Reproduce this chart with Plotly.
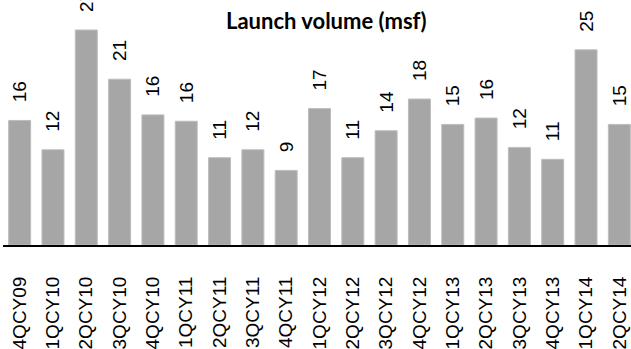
import plotly.graph_objects as go

categories = ["4QCY09", "1QCY10", "2QCY10", "3QCY10", "4QCY10", "1QCY11", "2QCY11",
              "3QCY11", "4QCY11", "1QCY12", "2QCY12", "3QCY12", "4QCY12", "1QCY13",
              "2QCY13", "3QCY13", "4QCY13", "1QCY14", "2QCY14"]
values = [15.7, 12.0, 27.1, 20.9, 16.4, 15.6, 11.0, 12.0, 9.4, 17.2, 11.0, 14.4,
          18.4, 15.2, 16.0, 12.3, 10.8, 24.6, 15.2]
labels = ["16", "12", "27", "21", "16", "16", "11", "12", "9", "17", "11", "14",
          "18", "15", "16", "12", "11", "25", "15"]
title = "Launch volume (msf)"

LABEL_GAP = 1.9  # data units of empty space between bar top and its value label

fig = go.Figure()
fig.add_trace(go.Bar(x=categories, y=values, marker=dict(color="#a6a6a6",
                     line=dict(color="#bdbdbd", width=1)), hoverinfo="skip"))
# invisible carrier bars for the rotated value labels
fig.add_trace(go.Bar(x=categories, y=[v + LABEL_GAP for v in values], text=labels,
                     texttemplate="%{text}", textposition="outside", textangle=-90,
                     marker=dict(color="rgba(0,0,0,0)", line=dict(width=0)),
                     outsidetextfont=dict(family="Liberation Sans", size=19, color="#000"),
                     cliponaxis=False, hoverinfo="skip"))

fig.add_annotation(text="<b>" + title + "</b>", xref="paper", yref="paper",
                   x=0.515, y=1.0, xanchor="center", yanchor="middle", yshift=-13,
                   showarrow=False,
                   font=dict(family="Lato", size=22, color="#000"))

fig.update_layout(
    width=631, height=349,
    margin=dict(l=3, r=0, t=7, b=104),
    paper_bgcolor="white", plot_bgcolor="white",
    barmode="overlay", bargap=0.34, showlegend=False,
    uniformtext=dict(mode=False),
    xaxis=dict(range=[-0.5, 18.35], showline=True, linecolor="#000", linewidth=2,
               ticks="", tickangle=-90, ticklabelstandoff=22,
               tickfont=dict(family="Liberation Sans", size=19, color="#000"),
               showgrid=False, zeroline=False),
    yaxis=dict(range=[0, 30], visible=False, showgrid=False, zeroline=False),
)

fig.write_html("out.html")
